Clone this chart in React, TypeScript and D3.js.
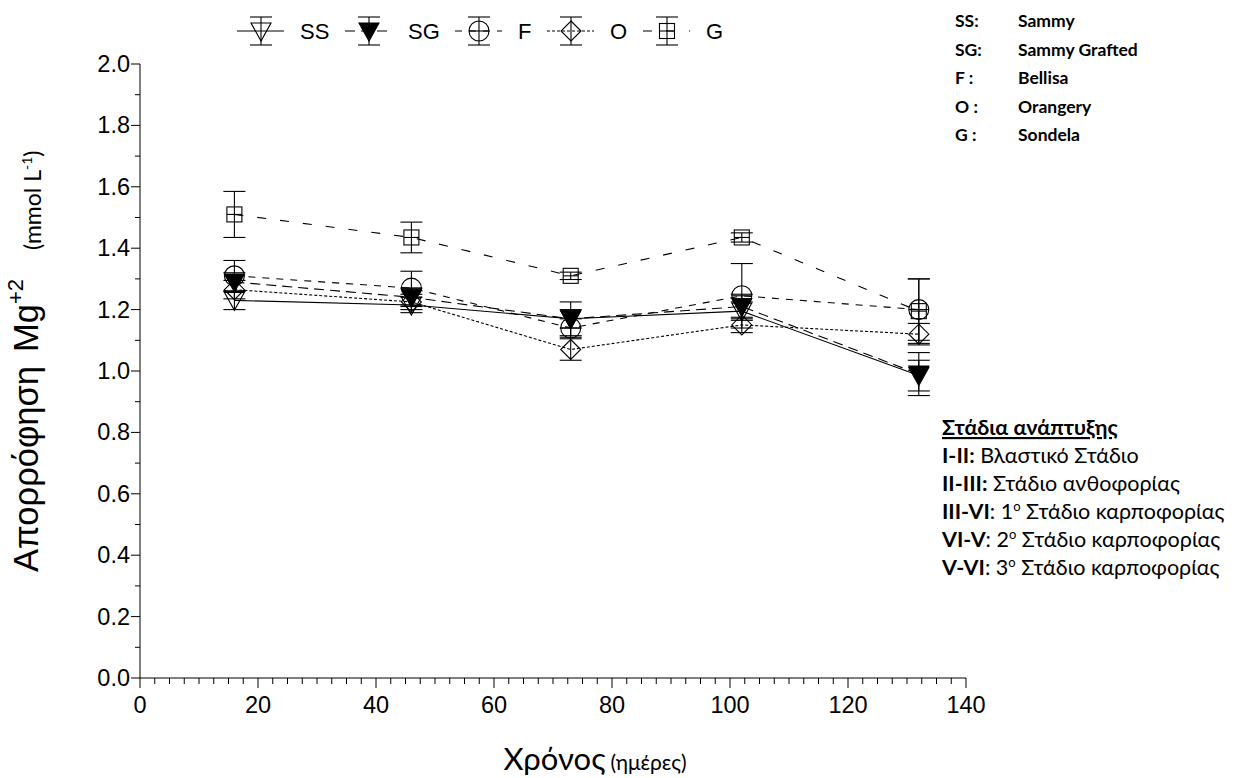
import * as d3 from 'd3';

const days = [16, 46, 73, 102, 132];
const ssMean = [1.23, 1.215, 1.17, 1.195, 0.985];
const ssErr = [0.03, 0.025, 0.03, 0.03, 0.05];
const sgMean = [1.29, 1.24, 1.17, 1.21, 0.99];
const sgErr = [0.03, 0.03, 0.055, 0.04, 0.07];
const fMean = [1.31, 1.27, 1.14, 1.245, 1.2];
const fErr = [0.05, 0.055, 0.03, 0.105, 0.1];
const oMean = [1.265, 1.225, 1.07, 1.15, 1.12];
const oErr = [0.03, 0.025, 0.035, 0.025, 0.035];
const gMean = [1.51, 1.435, 1.31, 1.435, 1.195];
const gErr = [0.075, 0.05, 0.012, 0.015, 0.105];

const xTicks = [0, 20, 40, 60, 80, 100, 120, 140];
const yTicks = [0, 0.2, 0.4, 0.6, 0.8, 1.0, 1.2, 1.4, 1.6, 1.8, 2.0];

const varieties = [
  ['SS:', 'Sammy'],
  ['SG:', 'Sammy Grafted'],
  ['F :', 'Bellisa'],
  ['O :', 'Orangery'],
  ['G :', 'Sondela'],
];

const stages = [
  ['I-II:', ' Βλαστικό Στάδιο', ''],
  ['II-III:', ' Στάδιο ανθοφορίας', ''],
  ['III-VI', ': 1', 'ο'],
  ['VI-V', ': 2', 'ο'],
  ['V-VI', ': 3', 'ο'],
];

type Series = { key: string; mean: number[]; err: number[]; shape: string; dash: string };
const series: Series[] = [
  { key: 'SS', mean: ssMean, err: ssErr, shape: 'triOpen', dash: '' },
  { key: 'SG', mean: sgMean, err: sgErr, shape: 'triFill', dash: '10,6' },
  { key: 'F', mean: fMean, err: fErr, shape: 'circle', dash: '7,7' },
  { key: 'O', mean: oMean, err: oErr, shape: 'diamond', dash: '3,2' },
  { key: 'G', mean: gMean, err: gErr, shape: 'square', dash: '9,14' },
];

const W = 1234;
const H = 778;
const x = d3.scaleLinear().domain([0, 140]).range([140, 966]);
const y = d3.scaleLinear().domain([0, 2]).range([678, 64]);

const ARIAL = 'Liberation Sans, Arial, sans-serif';
const CAL = 'Lato, Open Sans, sans-serif';

function Marker({ shape, cx, cy }: { shape: string; cx: number; cy: number }) {
  const st = { stroke: '#000', strokeWidth: 1.1, fill: 'none' };
  if (shape === 'triOpen' || shape === 'triFill') {
    return (
      <path
        d={`M${cx - 10},${cy - 8}L${cx + 10},${cy - 8}L${cx},${cy + 10}Z`}
        {...st}
        fill={shape === 'triFill' ? '#000' : 'none'}
      />
    );
  }
  if (shape === 'circle') {
    return (
      <g>
        <circle cx={cx} cy={cy} r={10} {...st} />
        <line x1={cx - 10} x2={cx + 10} y1={cy} y2={cy} {...st} />
      </g>
    );
  }
  if (shape === 'diamond') {
    return <path d={`M${cx},${cy - 10}L${cx + 10},${cy}L${cx},${cy + 10}L${cx - 10},${cy}Z`} {...st} />;
  }
  return (
    <g>
      <rect x={cx - 7.5} y={cy - 7.5} width={15} height={15} {...st} />
      <line x1={cx - 7.5} x2={cx + 7.5} y1={cy} y2={cy} {...st} />
    </g>
  );
}

export default function App() {
  const line = d3.line<number>().x((_, i) => x(days[i])).y(d => y(d));
  const xMinor = d3.range(0, 140.01, 2.5);
  const yMinor = d3.range(0, 2.001, 0.1);
  const legendX = [237, 345, 455, 547, 643];

  return (
    <svg width={W} height={H} style={{ position: 'absolute', left: 0, top: 0, background: '#fff' }}>
      <rect width={W} height={H} fill="#fff" />

      {/* axes */}
      <g stroke="#000" strokeWidth={1}>
        <line x1={x(0)} x2={x(140)} y1={y(0)} y2={y(0)} />
        <line x1={x(0)} x2={x(0)} y1={y(0)} y2={y(2)} />
        {xMinor.map(t => (
          <line key={'xm' + t} x1={x(t)} x2={x(t)} y1={y(0)} y2={y(0) + (t % 20 === 0 ? 10 : 6)} />
        ))}
        {yMinor.map((t, i) => (
          <line key={'ym' + i} x1={x(0)} x2={x(0) - (i % 2 === 0 ? 9 : 5)} y1={y(t)} y2={y(t)} />
        ))}
      </g>
      <g fontFamily={ARIAL} fontSize={23.5} fill="#000">
        {xTicks.map(t => (
          <text key={'xt' + t} x={x(t)} y={y(0) + 35} textAnchor="middle">{t}</text>
        ))}
        {yTicks.map(t => (
          <text key={'yt' + t} x={x(0) - 10} y={y(t) + 8} textAnchor="end">{t.toFixed(1)}</text>
        ))}
      </g>

      {/* series lines */}
      {series.map(s => (
        <path key={'l' + s.key} d={line(s.mean) || ''} fill="none" stroke="#000" strokeWidth={1.1}
          strokeDasharray={s.dash || undefined} />
      ))}

      {/* error bars */}
      {series.map(s => (
        <g key={'e' + s.key} stroke="#000" strokeWidth={1.1}>
          {s.mean.map((m, i) => {
            const cx = x(days[i]);
            const top = y(m + s.err[i]);
            const bot = y(m - s.err[i]);
            return (
              <g key={i}>
                <line x1={cx} x2={cx} y1={top} y2={bot} />
                <line x1={cx - 11} x2={cx + 11} y1={top} y2={top} />
                <line x1={cx - 11} x2={cx + 11} y1={bot} y2={bot} />
              </g>
            );
          })}
        </g>
      ))}

      {/* markers */}
      {series.map(s => (
        <g key={'m' + s.key}>
          {s.mean.map((m, i) => (
            <Marker key={i} shape={s.shape} cx={x(days[i])} cy={y(m)} />
          ))}
        </g>
      ))}

      {/* top legend */}
      {series.map((s, i) => {
        const lx = legendX[i];
        const cx = lx + 24;
        return (
          <g key={'lg' + s.key}>
            <line x1={lx} x2={lx + 47} y1={31} y2={31} stroke="#000" strokeWidth={1.1}
              strokeDasharray={s.dash || undefined} />
            <g stroke="#000" strokeWidth={1.1}>
              <line x1={cx} x2={cx} y1={17} y2={45} />
              <line x1={cx - 11} x2={cx + 11} y1={17} y2={17} />
              <line x1={cx - 11} x2={cx + 11} y1={45} y2={45} />
            </g>
            <Marker shape={s.shape} cx={cx} cy={31} />
            <text x={lx + 63} y={39} fontFamily={ARIAL} fontSize={22}>{s.key}</text>
          </g>
        );
      })}

      {/* variety legend */}
      <g fontFamily={CAL} fontSize={17.5} fontWeight="bold">
        {varieties.map((v, i) => (
          <g key={'v' + i}>
            <text x={955} y={27 + i * 28.5}>{v[0]}</text>
            <text x={1018} y={27 + i * 28.5}>{v[1]}</text>
          </g>
        ))}
      </g>

      {/* stages */}
      <g fontFamily={CAL} fontSize={21.5}>
        <text x={942} y={435} fontWeight="bold" textDecoration="underline">Στάδια ανάπτυξης</text>
        {stages.map((s, i) => (
          <text key={'s' + i} x={942} y={463 + i * 28}>
            <tspan fontWeight="bold">{s[0]}</tspan>
            <tspan>{s[1]}</tspan>
            {s[2] && <tspan fontSize={13} dy={-8}>{s[2]}</tspan>}
            {s[2] && <tspan dy={8}> Στάδιο καρποφορίας</tspan>}
          </text>
        ))}
      </g>

      {/* axis titles */}
      <text x={595} y={770} textAnchor="middle" fill="#000">
        <tspan fontFamily={CAL} fontSize={31}>Χρόνος</tspan>
        <tspan fontFamily={CAL} fontSize={21} dx={5}>(ημέρες)</tspan>
      </text>
      <text transform="translate(38,572) rotate(-90)" fontFamily={ARIAL} fontSize={34.5} fill="#000">
        Απορρόφηση
        <tspan dx={14}>Mg</tspan>
        <tspan fontSize={22} dy={-15}>+2</tspan>
      </text>
      <text transform="translate(41,250) rotate(-90)" fontFamily={CAL} fontSize={23} fill="#000">
        (mmol L<tspan fontSize={14} dy={-9}>-1</tspan><tspan dy={9}>)</tspan>
      </text>
    </svg>
  );
}
